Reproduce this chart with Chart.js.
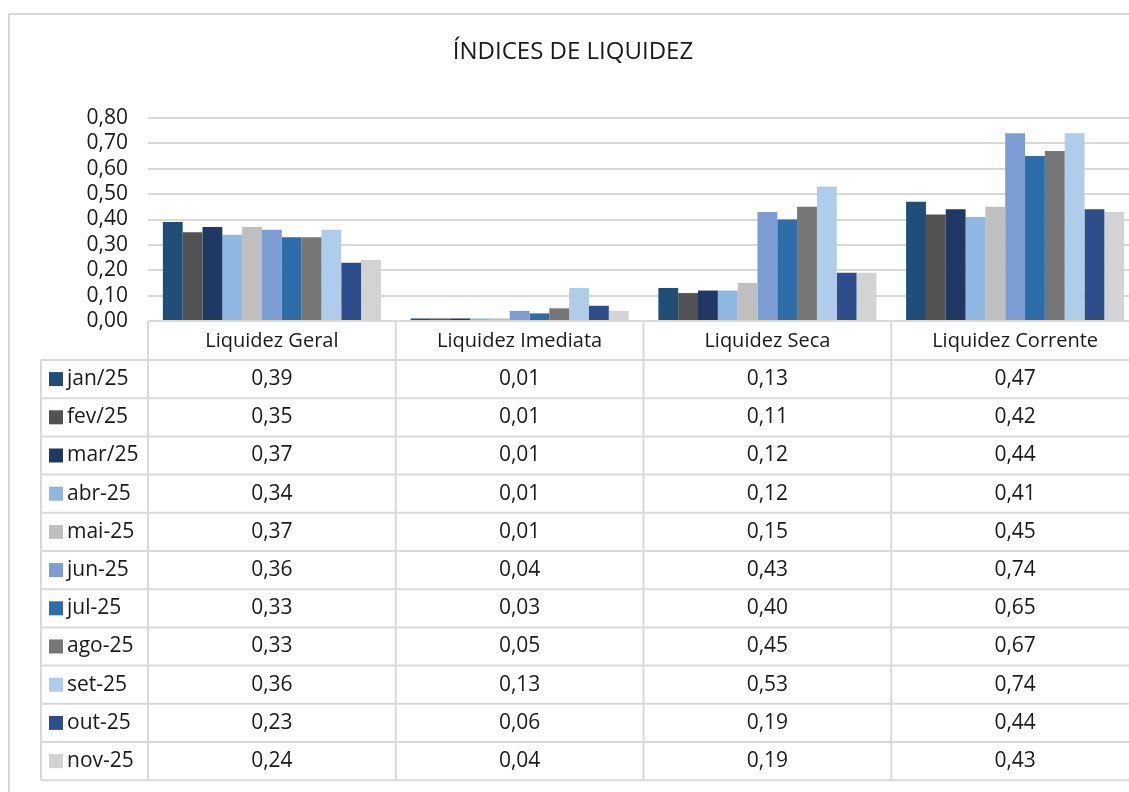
<!DOCTYPE html>
<html>
<head>
<meta charset="utf-8">
<script src="https://cdn.jsdelivr.net/npm/chart.js@4.4.1/dist/chart.umd.min.js"></script>
<style>
  html, body { margin: 0; padding: 0; background: #fff; overflow: hidden; }
  #wrap { width: 1145px; height: 792px; }
</style>
</head>
<body>
<div id="wrap"><canvas id="liqChart" width="1145" height="792"></canvas></div>
<script>
// data
const categories = ["Liquidez Geral", "Liquidez Imediata", "Liquidez Seca", "Liquidez Corrente"];
const months = ["jan/25", "fev/25", "mar/25", "abr-25", "mai-25", "jun-25", "jul-25", "ago-25", "set-25", "out-25", "nov-25"];
const jan25 = [0.39, 0.01, 0.13, 0.47];
const fev25 = [0.35, 0.01, 0.11, 0.42];
const mar25 = [0.37, 0.01, 0.12, 0.44];
const abr25 = [0.34, 0.01, 0.12, 0.41];
const mai25 = [0.37, 0.01, 0.15, 0.45];
const jun25 = [0.36, 0.04, 0.43, 0.74];
const jul25 = [0.33, 0.03, 0.40, 0.65];
const ago25 = [0.33, 0.05, 0.45, 0.67];
const set25 = [0.36, 0.13, 0.53, 0.74];
const out25 = [0.23, 0.06, 0.19, 0.44];
const nov25 = [0.24, 0.04, 0.19, 0.43];
const seriesValues = [jan25, fev25, mar25, abr25, mai25, jun25, jul25, ago25, set25, out25, nov25];
const yTicks = [0, 0.1, 0.2, 0.3, 0.4, 0.5, 0.6, 0.7, 0.8];

const colors = ["#1F4E79", "#525252", "#203864", "#8EB8E2", "#BFBFBF", "#7C9CD4",
                "#2C6DAA", "#767676", "#AFCDEA", "#2D4E8B", "#D3D3D3"];

const FONT = "'Open Sans', 'Liberation Sans', sans-serif";
const TXT = "#1a1a1a";
const fmt = v => v.toFixed(2).replace(".", ",");

// frame + title
const framePlugin = {
    id: 'frame',
    beforeDraw(chart) {
        const ctx = chart.ctx;
        ctx.save();
        ctx.strokeStyle = "#D9D9D9";
        ctx.lineWidth = 2;
        ctx.strokeRect(9, 14, 1131, 800);
        ctx.fillStyle = TXT;
        ctx.font = "24px " + FONT;
        ctx.textAlign = "center";
        ctx.textBaseline = "middle";
        ctx.fillText("ÍNDICES DE LIQUIDEZ", 573, 52);
        ctx.restore();
    }
};

// data table under the plot
const tablePlugin = {
    id: 'dataTable',
    afterDraw(chart) {
        const ctx = chart.ctx;
        const xs = chart.scales.x;
        const area = chart.chartArea;
        const catW = xs.width / categories.length;
        const top = area.bottom;
        const headerH = 39;
        const rowH = 38.2;
        const legendLeft = 41;
        const bottom = top + headerH + rowH * months.length;

        ctx.save();
        ctx.strokeStyle = "#D9D9D9";
        ctx.lineWidth = 2;

        // horizontal lines
        ctx.beginPath();
        ctx.moveTo(area.left, top);
        ctx.lineTo(area.right, top);
        for (let r = 0; r <= months.length; r++) {
            const y = top + headerH + r * rowH;
            ctx.moveTo(legendLeft, y);
            ctx.lineTo(area.right, y);
        }
        // vertical lines
        ctx.moveTo(legendLeft, top + headerH);
        ctx.lineTo(legendLeft, bottom);
        for (let i = 0; i <= categories.length; i++) {
            const x = area.left + i * catW;
            ctx.moveTo(x, top);
            ctx.lineTo(x, bottom);
        }
        ctx.stroke();

        ctx.fillStyle = TXT;
        ctx.font = "20px " + FONT;
        ctx.textBaseline = "middle";
        ctx.textAlign = "center";
        categories.forEach((c, i) => {
            ctx.fillText(c, xs.getPixelForValue(i), top + headerH / 2 + 1);
        });

        ctx.font = "21px " + FONT;
        months.forEach((m, r) => {
            const yc = top + headerH + r * rowH + rowH / 2;
            ctx.fillStyle = colors[r];
            ctx.fillRect(49, yc - 7, 14, 14);
            ctx.fillStyle = TXT;
            ctx.textAlign = "left";
            ctx.fillText(m, 67, yc);
            ctx.textAlign = "center";
            seriesValues[r].forEach((v, i) => {
                ctx.fillText(fmt(v), xs.getPixelForValue(i), yc);
            });
        });
        ctx.restore();
    }
};

const datasets = months.map((m, i) => ({
    label: m,
    data: seriesValues[i],
    backgroundColor: colors[i],
    borderWidth: 0,
    barPercentage: 1.0,
    categoryPercentage: 0.88
}));

new Chart(document.getElementById('liqChart'), {
    type: 'bar',
    data: { labels: categories, datasets: datasets },
    options: {
        responsive: false,
        animation: false,
        layout: { padding: { top: 118, left: 0, right: 6, bottom: 471 } },
        plugins: {
            legend: { display: false },
            title: { display: false },
            tooltip: { enabled: false }
        },
        scales: {
            x: { display: false },
            y: {
                min: 0,
                max: 0.8,
                afterBuildTicks: (s) => { s.ticks = yTicks.map(v => ({ value: v })); },
                afterFit: (s) => { s.width = 148; },
                border: { display: false },
                grid: { color: "#D9D9D9", lineWidth: 2, drawTicks: false },
                ticks: {
                    autoSkip: false,
                    padding: 20,
                    color: TXT,
                    font: { family: FONT, size: 21 },
                    callback: (v) => fmt(v)
                }
            }
        }
    },
    plugins: [framePlugin, tablePlugin]
});
</script>
</body>
</html>
